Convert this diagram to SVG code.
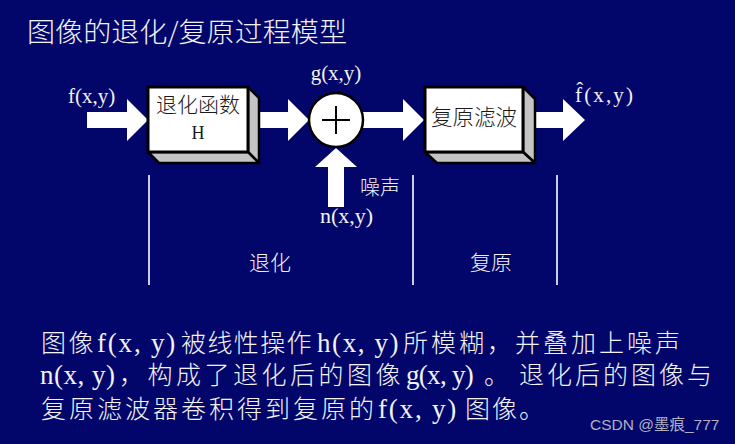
<svg xmlns="http://www.w3.org/2000/svg" width="735" height="444" viewBox="0 0 735 444">
<style>
.cjk{font-family:"Noto Sans CJK SC","Noto Sans",sans-serif;fill:#f2f2f2;font-weight:300}
.lat{font-family:"Liberation Serif","Times New Roman",serif;fill:#f2f2f2;font-weight:400}
.blk{font-family:"Noto Sans CJK SC",sans-serif;fill:#1a1a1a;font-weight:300}
.blat{font-family:"Liberation Serif",serif;fill:#1a1a1a}
.arrow{fill:#ffffff}
.front{fill:#ffffff;stroke:#000;stroke-width:3;stroke-linejoin:miter}
.side{fill:#c4c4c4;stroke:#000;stroke-width:2.5;stroke-linejoin:round}
.div{stroke:#ffffff;stroke-width:1.6}
</style>
<rect x="0" y="0" width="735" height="444" fill="#02066b"/>

<g id="title">
<text class="cjk" x="27" y="42" font-size="27" textLength="320" lengthAdjust="spacingAndGlyphs">图像的退化/复原过程模型</text>
</g>

<g id="connectors">
<polygon class="arrow" points="87,112 127,112 127,99 148,120 127,141 127,128 87,128"/>
<polygon class="arrow" points="250,112 288,112 288,99 309,120 288,141 288,128 250,128"/>
<polygon class="arrow" points="328,207 328,167 315,167 336,148 357,167 344,167 344,207"/>
<polygon class="arrow" points="362,112 403,112 403,99 424,120 403,141 403,128 362,128"/>
<polygon class="arrow" points="525,112 563,112 563,99 585,120 563,141 563,128 525,128"/>
</g>

<g id="input-label">
<text class="lat" x="68" y="103" font-size="21">f(x,y)</text>
</g>

<g id="box-degradation">
<polygon class="side" points="248,87 259,98 259,163 248,152"/>
<polygon class="side" points="148,152 248,152 259,163 159,163"/>
<rect class="front" x="148" y="87" width="100" height="65"/>
<text class="blk" x="198" y="112" font-size="21" text-anchor="middle">退化函数</text>
<text class="blat" x="198" y="139" font-size="18" text-anchor="middle">H</text>
</g>

<g id="adder">
<circle cx="336" cy="120" r="27" fill="#ffffff" stroke="#000" stroke-width="2.5"/>
<line x1="322" y1="120" x2="350" y2="120" stroke="#000" stroke-width="2"/>
<line x1="336" y1="106" x2="336" y2="134" stroke="#000" stroke-width="2"/>
<text class="lat" x="336" y="80" font-size="21" text-anchor="middle">g(x,y)</text>
</g>

<g id="noise">
<text class="cjk" x="360" y="195" font-size="20">噪声</text>
<text class="lat" x="320" y="223" font-size="22">n(x,y)</text>
</g>

<g id="box-restoration">
<polygon class="side" points="523,87 535,99 535,163 523,152"/>
<polygon class="side" points="425,152 523,152 535,163 437,163"/>
<rect class="front" x="425" y="87" width="98" height="65"/>
<text class="blk" x="474" y="125" font-size="21.5" text-anchor="middle">复原滤波</text>
</g>

<g id="output-label">
<text class="lat" x="575" y="102" font-size="21" textLength="58" lengthAdjust="spacing">f̂(x,y)</text>
</g>

<g id="stages">
<line class="div" x1="149" y1="175" x2="149" y2="285"/>
<line class="div" x1="413" y1="175" x2="413" y2="285"/>
<line class="div" x1="557" y1="175" x2="557" y2="285"/>
<text class="cjk" x="270" y="270" font-size="21" text-anchor="middle">退化</text>
<text class="cjk" x="491" y="270" font-size="21" text-anchor="middle">复原</text>
</g>

<g id="description" font-size="25">
<text class="cjk" y="352"><tspan x="41" letter-spacing="2.5">图像</tspan><tspan class="lat" x="97" font-size="27" letter-spacing="1.8">f(x, y)</tspan><tspan x="181" letter-spacing="1.4">被线性操作</tspan><tspan class="lat" x="317" font-size="27" letter-spacing="1.6">h(x, y)</tspan><tspan x="403" letter-spacing="3">所模糊，并叠加上噪声</tspan></text>
<text class="cjk" y="384"><tspan class="lat" x="40" font-size="27" letter-spacing="0.5">n(x, y)</tspan><tspan x="119" letter-spacing="3.5">，构成了退化后的图像</tspan><tspan class="lat" x="406" font-size="27" letter-spacing="-0.7">g(x, y)</tspan><tspan x="484">。</tspan><tspan x="519" letter-spacing="3">退化后的图像与</tspan></text>
<text class="cjk" y="418"><tspan x="41" letter-spacing="3">复原滤波器卷积得到复原的</tspan><tspan class="lat" x="378" font-size="27" letter-spacing="1.8">f(x, y)</tspan><tspan x="465" letter-spacing="2">图像。</tspan></text>
</g>

<g id="watermark">
<text x="590" y="430" font-family="Liberation Sans, Noto Sans CJK SC, sans-serif" font-size="15.5" fill="#b0b0c4">CSDN @墨痕_777</text>
</g>
</svg>
